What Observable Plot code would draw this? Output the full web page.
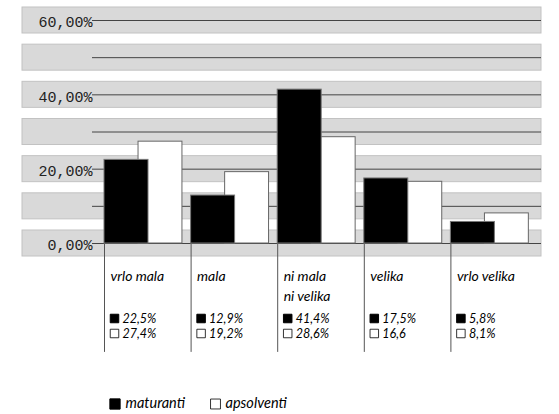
<!DOCTYPE html>
<html>
<head>
<meta charset="utf-8">
<script src="https://cdn.jsdelivr.net/npm/d3@7"></script>
<script src="https://cdn.jsdelivr.net/npm/@observablehq/plot@0.6"></script>
<style>
  html, body { margin: 0; padding: 0; background: #fff; }
  #chart svg { display: block; }
</style>
</head>
<body>
<div id="chart"></div>
<script>
// ---- data ----
const categories = ["vrlo mala", "mala", "ni mala\nni velika", "velika", "vrlo velika"];
const maturanti = [22.5, 12.9, 41.4, 17.5, 5.8];
const apsolventi = [27.4, 19.2, 28.6, 16.6, 8.1];
const maturantiLabels = ["22,5%", "12,9%", "41,4%", "17,5%", "5,8%"];
const apsolventiLabels = ["27,4%", "19,2%", "28,6%", "16,6", "8,1%"];
const gridValues = [0, 10, 20, 30, 40, 50, 60];
const yTickValues = [0, 20, 40, 60];
const seriesNames = ["maturanti", "apsolventi"];

// ---- table ----
const rows = categories.map((c, i) => ({
  i, cat: c, mat: maturanti[i], aps: apsolventi[i],
  matLabel: maturantiLabels[i], apsLabel: apsolventiLabels[i]
}));

const labelFont = "Lato, 'Open Sans', sans-serif";
const monoFont = "'Liberation Mono', 'DejaVu Sans Mono', monospace";
const fmtTick = d => d3.format(".2f")(d).replace(".", ",") + "%";

// bar geometry in column units (column width = 1)
const blackW = 0.508, whiteL = 0.393, whiteR = 0.9;

const chart = Plot.plot({
  width: 559,
  height: 414,
  marginLeft: 22,
  marginRight: 18,
  marginTop: 0,
  marginBottom: 0,
  x: {type: "linear", domain: [0, 5], range: [104, 537], axis: null},
  y: {type: "linear", domain: [0, 60], range: [243, 20], axis: null},
  marks: [
    // gray bands
    Plot.rect(gridValues, {y1: d => d - 3.5, y2: d => d + 3.5, fill: "#d9d9d9", stroke: "#c2c2c2", strokeWidth: 1}),
    // grid lines
    Plot.ruleY(gridValues, {y: d => d, insetLeft: 70, stroke: "#444", strokeWidth: 1}),
    // y tick labels
    Plot.text(yTickValues, {y: d => d, text: fmtTick, frameAnchor: "left", dx: 70, dy: 2, textAnchor: "end",
      fontFamily: monoFont, fontSize: 15, fill: "#222"}),
    // column separators below axis
    Plot.ruleX(rows, {x: "i", y1: 0, y2: -29.3, stroke: "#555", strokeWidth: 1}),
    // white bars (behind)
    Plot.rectY(rows, {x1: d => d.i + whiteL, x2: d => d.i + whiteR, y1: 0, y2: "aps", fill: "#fff", stroke: "#666", strokeWidth: 1}),
    // black bars (front)
    Plot.rectY(rows, {x1: d => d.i, x2: d => d.i + blackW, y1: 0, y2: "mat", fill: "#000", stroke: "#777", strokeWidth: 1}),
    // category labels
    Plot.text(rows, {x: "i", y: 0, text: "cat", dx: 6, dy: 24, textAnchor: "start", lineAnchor: "top", lineHeight: 1.4,
      fontFamily: labelFont, fontStyle: "italic", fontSize: 14, fill: "#000"}),
    // value squares
    Plot.dot(rows, {x: "i", y: 0, dx: 10, dy: 75, symbol: "square", r: 4.8, fill: "#000", stroke: "#000", strokeWidth: 1}),
    Plot.dot(rows, {x: "i", y: 0, dx: 10, dy: 90, symbol: "square", r: 4.8, fill: "#fff", stroke: "#000", strokeWidth: 0.8}),
    // value labels
    Plot.text(rows, {x: "i", y: 0, text: "matLabel", dx: 18, dy: 79, textAnchor: "start", lineAnchor: "bottom",
      fontFamily: labelFont, fontStyle: "italic", fontSize: 12.5, fill: "#000"}),
    Plot.text(rows, {x: "i", y: 0, text: "apsLabel", dx: 18, dy: 94, textAnchor: "start", lineAnchor: "bottom",
      fontFamily: labelFont, fontStyle: "italic", fontSize: 12.5, fill: "#000"}),
    // legend
    Plot.dot([seriesNames[0]], {frameAnchor: "bottom-left", dx: 92.5, dy: -10.5, symbol: "square", r: 5.8, fill: "#000", stroke: "#000", strokeWidth: 1}),
    Plot.dot([seriesNames[1]], {frameAnchor: "bottom-left", dx: 193, dy: -10.5, symbol: "square", r: 5.6, fill: "#fff", stroke: "#000", strokeWidth: 0.8}),
    Plot.text([seriesNames[0]], {frameAnchor: "bottom-left", text: d => d, dx: 103, dy: -7, textAnchor: "start", lineAnchor: "bottom",
      fontFamily: labelFont, fontStyle: "italic", fontSize: 14.5, fill: "#000"}),
    Plot.text([seriesNames[1]], {frameAnchor: "bottom-left", text: d => d, dx: 203, dy: -7, textAnchor: "start", lineAnchor: "bottom",
      fontFamily: labelFont, fontStyle: "italic", fontSize: 14.5, fill: "#000"})
  ]
});
document.getElementById("chart").append(chart);
</script>
</body>
</html>
